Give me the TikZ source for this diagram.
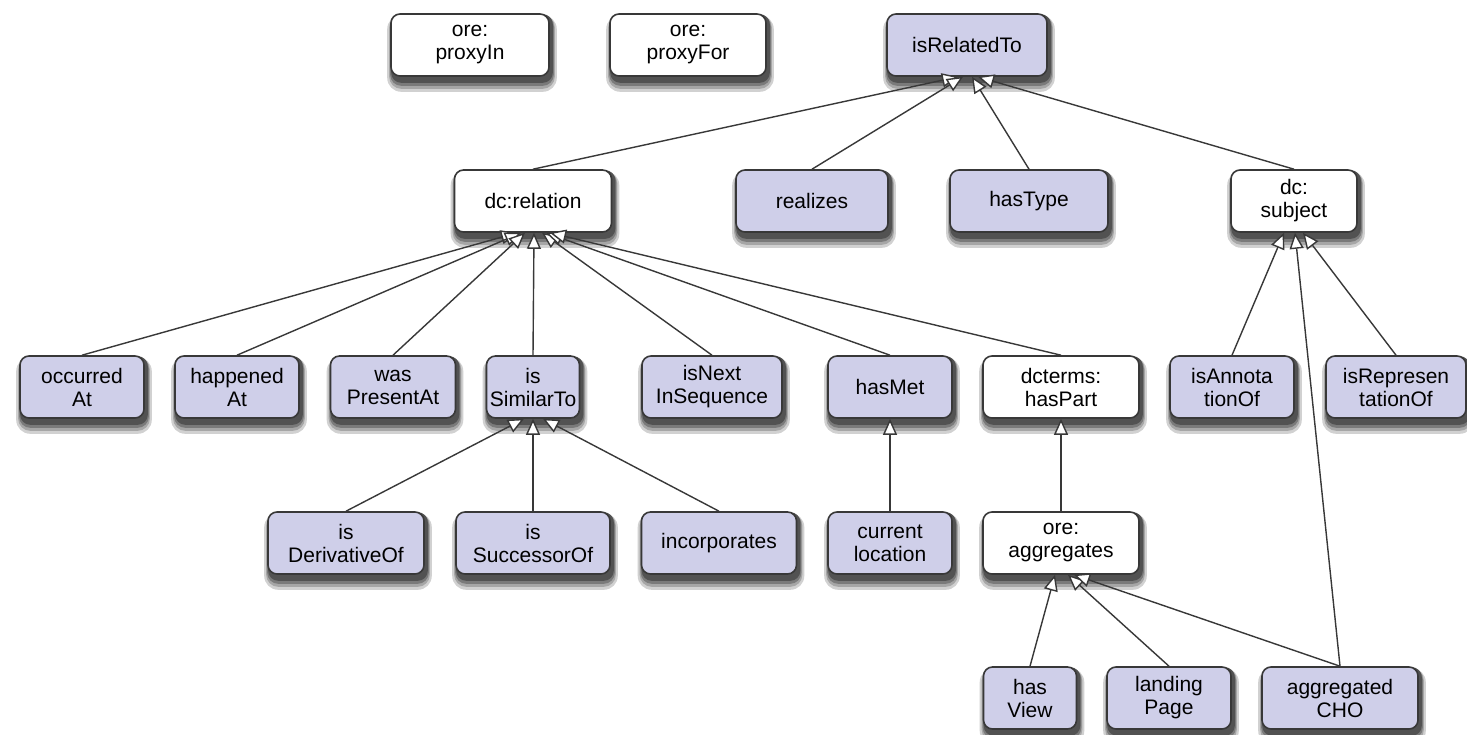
\documentclass[tikz,border=0pt]{standalone}
\usepackage{fontspec}
\setmainfont{Liberation Sans}
\usetikzlibrary{arrows.meta,backgrounds,calc}
\definecolor{lav}{HTML}{CFCFE9}
\definecolor{edge}{HTML}{383838}
\begin{document}
\begin{tikzpicture}[x=1pt,y=-1pt,
  box/.style={draw=edge, line width=1.6pt, rounded corners=9pt, fill=lav,
    align=center, inner sep=0pt, minimum height=62pt,
    font=\fontsize{21}{23}\selectfont},
  wbox/.style={box, fill=white},
  gen/.style={draw=edge, line width=1.4pt,
    -{Triangle[open, length=16pt, width=14pt, fill=white]}}]
\useasboundingbox (0,0) rectangle (1467,735);
% top row
\node[wbox, minimum width=158pt] (proxyIn) at (470,45) {ore:\\proxyIn};
\node[wbox, minimum width=156pt] (proxyFor) at (688,45) {ore:\\proxyFor};
\node[box, minimum width=160pt] (rel) at (967,45) {isRelatedTo};
% row 2
\node[wbox, minimum width=157pt] (dcrel) at (533,201) {dc:relation};
\node[box, minimum width=152pt] (realizes) at (812,201) {realizes};
\node[box, minimum width=158pt] (hasType) at (1029,201) {hasType};
\node[wbox, minimum width=126pt] (dcsubj) at (1294,201) {dc:\\subject};
% row 3
\node[box, minimum width=124pt] (occ) at (82,387) {occurred\\At};
\node[box, minimum width=124pt] (hap) at (237,387) {happened\\At};
\node[box, minimum width=125pt] (was) at (393,387) {was\\PresentAt};
\node[box, minimum width=93pt] (sim) at (533,387) {is\\SimilarTo};
\node[box, minimum width=140pt] (next) at (712,387) {isNext\\InSequence};
\node[box, minimum width=124pt] (hasMet) at (890,387) {hasMet};
\node[wbox, minimum width=156pt] (hasPart) at (1061,387) {dcterms:\\hasPart};
\node[box, minimum width=124pt] (annot) at (1232,387) {isAnnota\\tionOf};
\node[box, minimum width=140pt] (repr) at (1396,387) {isRepresen\\tationOf};
% row 4
\node[box, minimum width=156pt] (deriv) at (346,543) {is\\DerivativeOf};
\node[box, minimum width=154pt] (succ) at (533,543) {is\\SuccessorOf};
\node[box, minimum width=155pt] (incorp) at (719,543) {incorporates};
\node[box, minimum width=124pt] (curloc) at (890,543) {current\\location};
\node[wbox, minimum width=156pt] (aggr) at (1061,543) {ore:\\aggregates};
% row 5
\node[box, minimum width=93pt] (view) at (1030,698) {has\\View};
\node[box, minimum width=124pt] (landing) at (1169,698) {landing\\Page};
\node[box, minimum width=156pt] (cho) at (1340,698) {aggregated\\CHO};
% shadows
\begin{scope}[on background layer]
\fill[white] (0,0) rectangle (1467,735);
\foreach \n in {proxyIn,proxyFor,rel,dcrel,realizes,hasType,dcsubj,occ,hap,was,sim,next,hasMet,hasPart,annot,repr,deriv,succ,incorp,curloc,aggr,view,landing,cho}{
  \fill[black!18, rounded corners=14pt] ([shift={(-3pt,-15pt)}]\n.south west) rectangle ([shift={(7pt,-2pt)}]\n.north east);
  \fill[black!35, rounded corners=12pt] ([shift={(-1pt,-12pt)}]\n.south west) rectangle ([shift={(5pt,-2pt)}]\n.north east);
  \fill[black!52, rounded corners=11pt] ([shift={(0pt,-9pt)}]\n.south west) rectangle ([shift={(4pt,-2pt)}]\n.north east);
  \fill[black!68, rounded corners=10pt] ([shift={(1pt,-6pt)}]\n.south west) rectangle ([shift={(3pt,-1pt)}]\n.north east);
}
\end{scope}
% edges
\draw[gen] (dcrel.north) -- ([xshift=-9pt]rel.south);
\draw[gen] (realizes.north) -- ([xshift=-4pt]rel.south);
\draw[gen] (hasType.north) -- ([xshift=5pt]rel.south);
\draw[gen] (dcsubj.north) -- ([xshift=11pt]rel.south);
\draw[gen] (occ.north) -- ([xshift=-16pt]dcrel.south);
\draw[gen] (hap.north) -- ([xshift=-12pt]dcrel.south);
\draw[gen] (was.north) -- ([xshift=-8pt]dcrel.south);
\draw[gen] (sim.north) -- ([xshift=1pt]dcrel.south);
\draw[gen] (next.north) -- ([xshift=9pt]dcrel.south);
\draw[gen] (hasMet.north) -- ([xshift=13pt]dcrel.south);
\draw[gen] (hasPart.north) -- ([xshift=17pt]dcrel.south);
\draw[gen] (deriv.north) -- ([xshift=-9pt]sim.south);
\draw[gen] (succ.north) -- ([xshift=0pt]sim.south);
\draw[gen] (incorp.north) -- ([xshift=10pt]sim.south);
\draw[gen] (curloc.north) -- (hasMet.south);
\draw[gen] (aggr.north) -- (hasPart.south);
\draw[gen] (annot.north) -- ([xshift=-10pt]dcsubj.south);
\draw[gen] (cho.north) -- ([xshift=1pt]dcsubj.south);
\draw[gen] (repr.north) -- ([xshift=9pt]dcsubj.south);
\draw[gen] (view.north) -- ([xshift=-6pt]aggr.south);
\draw[gen] (landing.north) -- ([xshift=7pt]aggr.south);
\draw[gen] (cho.north) -- ([xshift=13pt]aggr.south);
\end{tikzpicture}
\end{document}
